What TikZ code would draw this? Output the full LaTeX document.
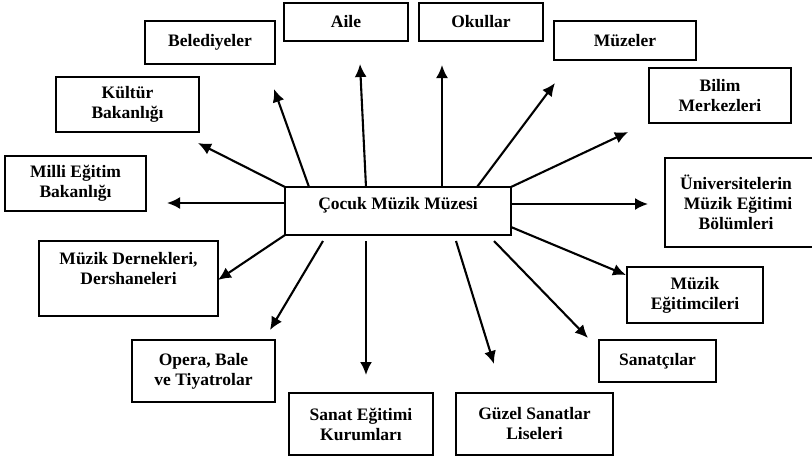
\documentclass[tikz,border=0pt]{standalone}
\usepackage{fontspec}
\setmainfont{Liberation Serif}
\usetikzlibrary{arrows.meta}
\begin{document}
\begin{tikzpicture}[x=1pt,y=-1pt,
  box/.style={draw=black,line width=1.5pt,fill=white,inner sep=0pt,align=center,
    font=\bfseries\fontsize{17.5}{20}\selectfont,text=black},
  arr/.style={line width=2.1pt,-{Latex[length=13pt,width=12pt]}}]
\useasboundingbox (0,0) rectangle (812,459);
% nodes
\node[box,minimum width=226pt,minimum height=48pt,text depth=16pt] (c) at (398,211) {Çocuk Müzik Müzesi};
\node[box,minimum width=130pt,minimum height=43pt] (bel) at (210,42.5) {Belediyeler};
\node[box,minimum width=124pt,minimum height=38pt] (aile) at (346,22) {Aile};
\node[box,minimum width=124pt,minimum height=38pt] (okul) at (481,22) {Okullar};
\node[box,minimum width=142pt,minimum height=39pt] (muz) at (625,40.5) {Müzeler};
\node[box,minimum width=142pt,minimum height=55pt] (bilim) at (720,95.5) {Bilim\\Merkezleri};
\node[box,minimum width=150pt,minimum height=89pt] (uni) at (740,202.5) {\hspace*{-4pt}Üniversitelerin\hspace*{4pt}\\\hspace*{-4pt}Müzik Eğitimi\hspace*{4pt}\\\hspace*{-4pt}Bölümleri\hspace*{4pt}};
\node[box,minimum width=136pt,minimum height=56pt] (egt) at (695,295) {Müzik\\Eğitimcileri};
\node[box,minimum width=117pt,minimum height=42pt] (san) at (657.5,361) {Sanatçılar};
\node[box,minimum width=157pt,minimum height=62pt] (guz) at (534.5,424) {Güzel Sanatlar\\Liseleri};
\node[box,minimum width=144pt,minimum height=62pt] (sek) at (361,424) {Sanat Eğitimi\\Kurumları};
\node[box,minimum width=143pt,minimum height=62pt] (ope) at (203.5,371) {Opera, Bale\\ve Tiyatrolar};
\node[box,minimum width=179pt,minimum height=75pt] (der) at (128.5,278.5) {Müzik Dernekleri,\\Dershaneleri\\\mbox{}};
\node[box,minimum width=141pt,minimum height=55pt] (mil) at (75.5,183.5) {Milli Eğitim\\Bakanlığı};
\node[box,minimum width=143pt,minimum height=55pt] (kul) at (127.5,104.5) {Kültür\\Bakanlığı};
% arrow start / end points
\coordinate (s1) at (285,203);  \coordinate (t1) at (167,203);
\coordinate (s2) at (285,187);  \coordinate (t2) at (198,143);
\coordinate (s3) at (309,187);  \coordinate (t3) at (274,89);
\coordinate (s4) at (366,187);  \coordinate (t4) at (360,64);
\coordinate (s5) at (442,187);  \coordinate (t5) at (442,65);
\coordinate (s6) at (477,187);  \coordinate (t6) at (555,83);
\coordinate (s7) at (511,187);  \coordinate (t7) at (628,132);
\coordinate (s8) at (511,204);  \coordinate (t8) at (648,204);
\coordinate (s9) at (511,227);  \coordinate (t9) at (626,275);
\coordinate (s10) at (494,241); \coordinate (t10) at (588,338);
\coordinate (s11) at (456,241); \coordinate (t11) at (494,364);
\coordinate (s12) at (366,241); \coordinate (t12) at (366,375);
\coordinate (s13) at (323,241); \coordinate (t13) at (270,330);
\coordinate (s14) at (285,235); \coordinate (t14) at (218,280);
\foreach \i in {1,...,14} {\draw[arr] (s\i) -- (t\i);}
\end{tikzpicture}
\end{document}
